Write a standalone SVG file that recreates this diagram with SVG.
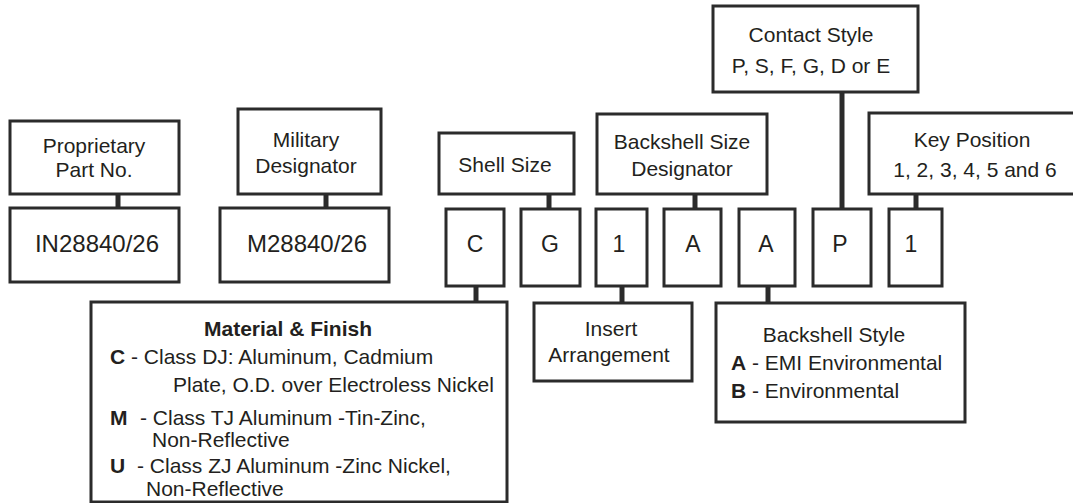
<svg xmlns="http://www.w3.org/2000/svg" width="1073" height="503" viewBox="0 0 1073 503">
<style>
.b{fill:#fff;stroke:#2b2b2b;stroke-width:3}
.c{stroke:#2b2b2b;stroke-width:5;fill:none}
text{font-family:"Liberation Sans",Arial,sans-serif;font-size:21px;fill:#231f20}
.m{text-anchor:middle}
.big{font-size:24px}
.let{font-size:23px}
.bd{font-weight:bold}
</style>
<rect width="1073" height="503" fill="#fff"/>
<g id="connectors">
<line class="c" x1="118" y1="194" x2="118" y2="208"/>
<line class="c" x1="326" y1="194" x2="326" y2="208"/>
<line class="c" x1="549" y1="194" x2="549" y2="209"/>
<line class="c" x1="695" y1="194" x2="695" y2="209"/>
<line class="c" x1="842" y1="92" x2="842" y2="209"/>
<line class="c" x1="916" y1="194" x2="916" y2="209"/>
<line class="c" x1="476" y1="286" x2="476" y2="302"/>
<line class="c" x1="622" y1="286" x2="622" y2="303"/>
<line class="c" x1="768" y1="286" x2="768" y2="303"/>
</g>
<g id="proprietary">
<rect class="b" x="10" y="121" width="169" height="73"/>
<text class="m" x="94" y="153">Proprietary</text>
<text class="m" x="94" y="177">Part No.</text>
</g>
<g id="military">
<rect class="b" x="238" y="109" width="143" height="85"/>
<text class="m" x="306" y="147">Military</text>
<text class="m" x="306" y="173">Designator</text>
</g>
<g id="shellsize">
<rect class="b" x="439" y="133" width="135" height="61"/>
<text class="m" x="505" y="172">Shell Size</text>
</g>
<g id="backshellsize">
<rect class="b" x="597" y="114" width="170" height="80"/>
<text class="m" x="682" y="149">Backshell Size</text>
<text class="m" x="682" y="176">Designator</text>
</g>
<g id="contactstyle">
<rect class="b" x="713" y="6" width="205" height="86"/>
<text class="m" x="811" y="42">Contact Style</text>
<text class="m" x="811" y="73">P, S, F, G, D or E</text>
</g>
<g id="keyposition">
<rect class="b" x="869" y="113" width="210" height="81"/>
<text class="m" x="972" y="147">Key Position</text>
<text class="m" x="975" y="177">1, 2, 3, 4, 5 and 6</text>
</g>
<g id="in28840">
<rect class="b" x="10" y="208" width="169" height="74"/>
<text class="m big" x="97" y="252">IN28840/26</text>
</g>
<g id="m28840">
<rect class="b" x="220" y="208" width="169" height="74"/>
<text class="m big" x="307" y="252">M28840/26</text>
</g>
<g id="box-c">
<rect class="b" x="446" y="209" width="58" height="77"/>
<text class="m let" x="475" y="252">C</text>
</g>
<g id="box-g">
<rect class="b" x="521" y="209" width="59" height="77"/>
<text class="m let" x="550" y="252">G</text>
</g>
<g id="box-1a">
<rect class="b" x="596" y="209" width="51" height="77"/>
<text class="m let" x="619" y="252">1</text>
</g>
<g id="box-a1">
<rect class="b" x="664" y="209" width="57" height="77"/>
<text class="m let" x="693" y="252">A</text>
</g>
<g id="box-a2">
<rect class="b" x="739" y="209" width="56" height="77"/>
<text class="m let" x="766" y="252">A</text>
</g>
<g id="box-p">
<rect class="b" x="813" y="209" width="58" height="77"/>
<text class="m let" x="840" y="252">P</text>
</g>
<g id="box-1b">
<rect class="b" x="889" y="209" width="53" height="77"/>
<text class="m let" x="911" y="252">1</text>
</g>
<g id="material">
<rect class="b" x="91" y="302" width="416" height="200"/>
<text class="m bd" x="288" y="336">Material &amp; Finish</text>
<text x="110" y="364"><tspan class="bd">C</tspan> - Class DJ: Aluminum, Cadmium</text>
<text x="173" y="392">Plate, O.D. over Electroless Nickel</text>
<text x="110" y="425" class="bd">M</text>
<text x="140" y="425">- Class TJ Aluminum -Tin-Zinc,</text>
<text x="152" y="447">Non-Reflective</text>
<text x="110" y="473" class="bd">U</text>
<text x="137" y="473">- Class ZJ Aluminum -Zinc Nickel,</text>
<text x="146" y="496">Non-Reflective</text>
</g>
<g id="insert">
<rect class="b" x="534" y="303" width="158" height="78"/>
<text class="m" x="611" y="336">Insert</text>
<text class="m" x="609" y="362">Arrangement</text>
</g>
<g id="backshellstyle">
<rect class="b" x="716" y="303" width="249" height="119"/>
<text class="m" x="834" y="342">Backshell Style</text>
<text x="731" y="370"><tspan class="bd">A</tspan> - EMI Environmental</text>
<text x="731" y="398"><tspan class="bd">B</tspan> - Environmental</text>
</g>
</svg>
